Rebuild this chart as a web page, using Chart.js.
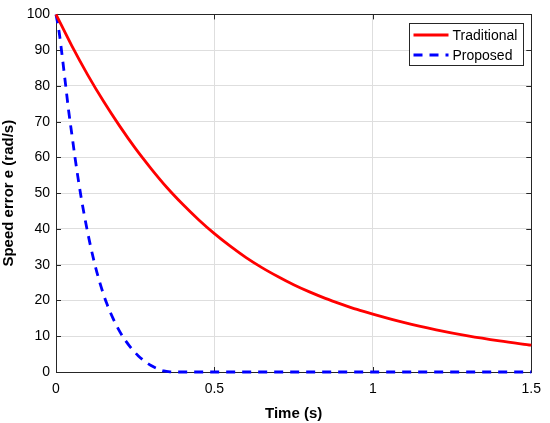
<!DOCTYPE html>
<html>
<head>
<meta charset="utf-8">
<script src="https://cdn.jsdelivr.net/npm/chart.js@4/dist/chart.umd.min.js"></script>
<style>
  html, body { margin: 0; padding: 0; background: #fff; }
  #wrap { width: 550px; height: 423px; }
</style>
</head>
<body>
<div id="wrap"><canvas id="errorChart"></canvas></div>
<script>
// values
var seriesNames = ['Traditional', 'Proposed'];

var traditionalTime  = [0, 0.05, 0.1, 0.15, 0.2, 0.25, 0.3, 0.35, 0.4, 0.45, 0.5, 0.55, 0.6, 0.65, 0.7, 0.75, 0.8, 0.85, 0.9, 0.95, 1.0, 1.1, 1.2, 1.3, 1.4, 1.5];
var traditionalError = [100, 91.2, 83.1, 75.7, 68.9, 62.6, 56.9, 51.6, 46.9, 42.6, 38.7, 35.2, 32.0, 29.2, 26.7, 24.4, 22.4, 20.6, 19.0, 17.5, 16.2, 13.8, 11.8, 10.1, 8.7, 7.5];

var proposedTime  = [0, 0.01, 0.02, 0.03, 0.04, 0.05, 0.06, 0.07, 0.08, 0.1, 0.12, 0.14, 0.16, 0.18, 0.2, 0.22, 0.24, 0.26, 0.28, 0.3, 0.32, 0.34, 0.36, 0.38, 0.5, 1.0, 1.5];
var proposedError = [100, 95, 88, 80.5, 73, 66.5, 60, 54, 48.5, 39, 31, 24.5, 19.2, 15, 11.5, 8.7, 6.4, 4.5, 3.0, 1.8, 0.9, 0.3, 0.05, 0, 0, 0, 0];

var xTicks = [0, 0.5, 1, 1.5];
var yTicks = [0, 10, 20, 30, 40, 50, 60, 70, 80, 90, 100];

var fontFamily = "'Liberation Sans', Arial, Helvetica, sans-serif";
var axisColor = '#262626';

function toPoints(xs, ys) {
    return xs.map(function(x, i) { return { x: x, y: ys[i] }; });
}

// box round the plot with MATLAB style inner ticks
var framePlugin = {
    id: 'frame',
    beforeDatasetsDraw: function(chart) {
        var ctx = chart.ctx;
        var a = chart.chartArea;
        var xs = chart.scales.x, ys = chart.scales.y;
        var len = 5;
        ctx.save();
        ctx.strokeStyle = axisColor;
        ctx.lineWidth = 1;
        ctx.beginPath();
        xTicks.forEach(function(v) {
            var px = Math.round(xs.getPixelForValue(v)) + 0.5;
            ctx.moveTo(px, a.bottom); ctx.lineTo(px, a.bottom - len);
            ctx.moveTo(px, a.top); ctx.lineTo(px, a.top + len);
        });
        yTicks.forEach(function(v) {
            var py = Math.round(ys.getPixelForValue(v)) + 0.5;
            ctx.moveTo(a.left, py); ctx.lineTo(a.left + len, py);
            ctx.moveTo(a.right, py); ctx.lineTo(a.right - len, py);
        });
        ctx.stroke();
        ctx.strokeRect(Math.round(a.left) + 0.5, Math.round(a.top) + 0.5,
                       Math.round(a.right - a.left), Math.round(a.bottom - a.top));
        ctx.restore();
    }
};

// boxed legend inside the upper right corner
var boxLegendPlugin = {
    id: 'boxLegend',
    afterDraw: function(chart) {
        var ctx = chart.ctx;
        var a = chart.chartArea;
        var w = 114, h = 42;
        var x0 = Math.round(a.right - 8 - w) + 0.5;
        var y0 = Math.round(a.top + 9) + 0.5;
        ctx.save();
        ctx.fillStyle = '#fff';
        ctx.fillRect(x0, y0, w, h);
        ctx.strokeStyle = axisColor;
        ctx.lineWidth = 1;
        ctx.strokeRect(x0, y0, w, h);
        ctx.font = '14px ' + fontFamily;
        ctx.textBaseline = 'middle';
        ctx.fillStyle = '#000';
        chart.data.datasets.forEach(function(ds, i) {
            var cy = y0 + 11.5 + i * 20;
            ctx.beginPath();
            ctx.strokeStyle = ds.borderColor;
            ctx.lineWidth = ds.borderWidth;
            ctx.setLineDash(ds.borderDash || []);
            ctx.moveTo(x0 + 4, cy);
            ctx.lineTo(x0 + 39, cy);
            ctx.stroke();
            ctx.setLineDash([]);
            ctx.fillText(ds.label, x0 + 43, cy + 1);
        });
        ctx.restore();
    }
};

var ctx = document.getElementById('errorChart').getContext('2d');
new Chart(ctx, {
    type: 'line',
    data: {
        datasets: [{
            label: seriesNames[0],
            data: toPoints(traditionalTime, traditionalError),
            borderColor: '#ff0000',
            borderWidth: 2.8,
            pointRadius: 0,
            cubicInterpolationMode: 'monotone',
            clip: false
        }, {
            label: seriesNames[1],
            data: toPoints(proposedTime, proposedError),
            borderColor: '#0000ff',
            borderWidth: 2.8,
            borderDash: [9, 7],
            pointRadius: 0,
            cubicInterpolationMode: 'monotone',
            clip: false
        }]
    },
    options: {
        responsive: true,
        maintainAspectRatio: false,
        animation: false,
        devicePixelRatio: 1,
        layout: { padding: { left: 0, right: 14, top: 11, bottom: 0 } },
        plugins: {
            legend: { display: false },
            tooltip: { enabled: false }
        },
        scales: {
            x: {
                type: 'linear',
                min: 0,
                max: 1.5,
                afterBuildTicks: function(scale) {
                    scale.ticks = xTicks.map(function(v) { return { value: v }; });
                },
                afterFit: function(scale) { scale.height = 51; },
                grid: { color: '#dedede', drawTicks: false },
                border: { display: false },
                ticks: {
                    padding: 9,
                    color: '#000',
                    font: { family: fontFamily, size: 14 },
                    maxRotation: 0,
                    callback: function(v) { return String(v); }
                },
                title: {
                    display: true,
                    text: 'Time (s)',
                    color: '#000',
                    font: { family: fontFamily, size: 15, weight: 'bold' },
                    padding: { top: 2, bottom: 0 }
                }
            },
            y: {
                min: 0,
                max: 100,
                afterBuildTicks: function(scale) {
                    scale.ticks = yTicks.map(function(v) { return { value: v }; });
                },
                afterFit: function(scale) { scale.width = 56; },
                grid: { color: '#dedede', drawTicks: false },
                border: { display: false },
                ticks: {
                    padding: 6,
                    color: '#000',
                    font: { family: fontFamily, size: 14 }
                },
                title: {
                    display: true,
                    text: 'Speed error e (rad/s)',
                    color: '#000',
                    font: { family: fontFamily, size: 15, weight: 'bold' },
                    padding: { top: 0, bottom: 2 }
                }
            }
        }
    },
    plugins: [framePlugin, boxLegendPlugin]
});
</script>
</body>
</html>
